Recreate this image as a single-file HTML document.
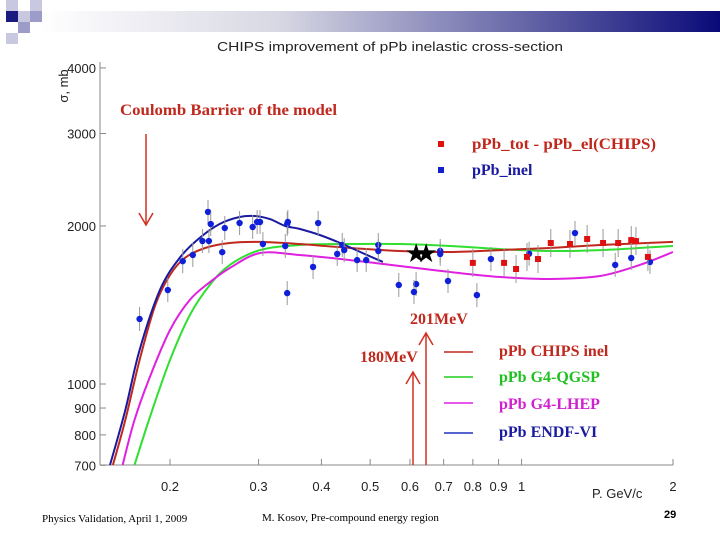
<!DOCTYPE html>
<html><head><meta charset="utf-8"><style>
html,body{margin:0;padding:0;background:#fff;width:720px;height:540px;overflow:hidden}
svg{display:block}
.ax{font-family:"Liberation Sans",sans-serif;font-size:13px;fill:#222}
.sr{font-family:"Liberation Serif",serif;font-weight:bold;font-size:16px}
</style></head><body>
<svg id="c" width="720" height="540" xmlns="http://www.w3.org/2000/svg">
<defs><linearGradient id="hg" x1="0" x2="1"><stop offset="0" stop-color="#fff"/><stop offset="0.35" stop-color="#d8d8e4"/><stop offset="1" stop-color="#0a0a78"/></linearGradient></defs>
<rect x="40" y="11" width="680" height="21" fill="url(#hg)"/>
<g>
<rect x="6" y="0" width="12" height="11" fill="#c8c8e0"/><rect x="30" y="0" width="12" height="11" fill="#c8c8e0"/>
<rect x="6" y="11" width="12" height="11" fill="#1a1a80"/><rect x="18" y="11" width="12" height="11" fill="#c8c8e0"/><rect x="30" y="11" width="12" height="11" fill="#9c9cc8"/>
<rect x="18" y="22" width="12" height="11" fill="#9c9cc8"/><rect x="6" y="33" width="12" height="11" fill="#c8c8e0"/>
</g>
<text x="217" y="51" class="ax" font-size="15" textLength="346" lengthAdjust="spacingAndGlyphs">CHIPS improvement of pPb inelastic cross-section</text>
<text class="ax" transform="translate(68,86) rotate(-90)" text-anchor="middle">σ, mb</text>
<text class="ax" x="592" y="498">P. GeV/c</text>
<g id="axes"></g><g id="curves"></g><g id="pts"></g>
<text class="sr" x="120" y="115" fill="#c0281e" textLength="217" lengthAdjust="spacingAndGlyphs">Coulomb Barrier of the model</text>
<g stroke="#d03020" stroke-width="1.5" fill="none"><line x1="146" y1="134" x2="146" y2="225"/><polyline points="139,213 146,225 153,213"/></g>
<rect x="438" y="141" width="6" height="6" fill="#e01010"/>
<text class="sr" x="472" y="149" fill="#c0281e" textLength="184" lengthAdjust="spacingAndGlyphs">pPb_tot - pPb_el(CHIPS)</text>
<rect x="438" y="167" width="6" height="6" fill="#1020d0"/>
<text class="sr" x="472" y="175" fill="#1a1aa0">pPb_inel</text>
<text class="sr" x="410" y="324" fill="#c0281e">201MeV</text>
<text class="sr" x="360" y="362" fill="#c0281e">180MeV</text>
<g stroke="#d03020" stroke-width="1.5" fill="none">
<line x1="413" y1="372" x2="413" y2="465"/><polyline points="406,384 413,372 420,384"/>
<line x1="426" y1="333" x2="426" y2="465"/><polyline points="419,345 426,333 433,345"/></g>
<g>
<line x1="444" y1="352" x2="473" y2="352" stroke="#c0281e" stroke-width="1.5"/><text class="sr" x="499" y="356" fill="#c0281e">pPb CHIPS inel</text>
<line x1="444" y1="377" x2="473" y2="377" stroke="#20d020" stroke-width="1.5"/><text class="sr" x="499" y="382" fill="#20c020">pPb G4-QGSP</text>
<line x1="444" y1="403" x2="473" y2="403" stroke="#e020e0" stroke-width="1.5"/><text class="sr" x="499" y="409" fill="#d020d0">pPb G4-LHEP</text>
<line x1="444" y1="433" x2="473" y2="433" stroke="#2030c0" stroke-width="1.5"/><text class="sr" x="499" y="437" fill="#1a1aa0">pPb ENDF-VI</text>
</g>
<text x="42" y="522" font-family="Liberation Serif,serif" font-size="11">Physics Validation, April 1, 2009</text>
<text x="262" y="521" font-family="Liberation Serif,serif" font-size="11">M. Kosov, Pre-compound energy region</text>
<text x="664" y="518" font-family="Liberation Sans,sans-serif" font-size="11" font-weight="bold">29</text>
</svg>
<script>
const xTicks=[0.2,0.3,0.4,0.5,0.6,0.7,0.8,0.9,1,2];
const xTickLabels=["0.2","0.3","0.4","0.5","0.6","0.7","0.8","0.9","1","2"];
const yTicks=[700,800,900,1000,2000,3000,4000];
const yTickLabels=["700","800","900","1000","2000","3000","4000"];
const blueE=[0.174,0.198,0.212,0.222,0.232,0.238,0.239,0.241,0.254,0.257,0.275,0.292,0.298,0.302,0.306,0.339,0.342,0.343,0.342,0.385,0.394,0.430,0.440,0.444,0.471,0.491,0.519,0.519,0.570,0.617,0.611,0.689,0.689,0.714,0.815,0.869,1.035,1.277,1.535,1.652,1.800];
const blueS=[1330,1510,1714,1761,1872,2127,1872,2017,1783,1982,2026,1991,2035,2035,1848,1832,2017,2035,1490,1671,2026,1769,1840,1799,1722,1722,1840,1792,1544,1550,1497,1792,1769,1571,1477,1730,1771,1939,1686,1738,1708];
const redE=[0.800,0.923,0.975,1.025,1.078,1.143,1.248,1.350,1.452,1.556,1.652,1.688,1.783];
const redS=[1701,1701,1656,1746,1730,1856,1848,1889,1856,1856,1880,1872,1746];
const starE=[0.617,0.646];
const starS=[1776,1776];
const curveE_red=[0.154,0.163,0.174,0.187,0.2,0.214,0.235,0.263,0.302,0.362,0.456,0.573,0.721,0.906,1.138,1.432,2.0];
const curveS_red=[701,854,1111,1414,1613,1738,1816,1856,1865,1848,1816,1792,1784,1799,1816,1840,1865];
const curveE_green=[0.170,0.183,0.2,0.219,0.240,0.263,0.302,0.362,0.456,0.573,0.721,0.906,1.138,1.432,2.0];
const curveS_green=[701,873,1111,1353,1544,1686,1799,1840,1848,1848,1832,1807,1792,1799,1832];
const curveE_mag=[0.161,0.170,0.183,0.2,0.219,0.240,0.263,0.302,0.362,0.456,0.573,0.721,0.906,1.138,1.432,1.718,2.0];
const curveS_mag=[701,854,1040,1267,1446,1563,1663,1776,1761,1722,1678,1634,1599,1585,1606,1686,1784];
const curveE_blue=[0.152,0.163,0.174,0.191,0.209,0.229,0.251,0.275,0.295,0.316,0.339,0.362,0.397,0.436,0.478,0.530];
const curveS_blue=[701,892,1161,1510,1738,1897,2017,2080,2089,2061,2000,1974,1922,1856,1784,1708];
const X=e=>170+503*Math.log10(e/0.2);
const Y=s=>384-525*Math.log10(s/1000);
const NS="http://www.w3.org/2000/svg";
function mk(p,t,a){const e=document.createElementNS(NS,t);for(const k in a)e.setAttribute(k,a[k]);p.appendChild(e);return e;}
const ax=document.getElementById('axes');
let l=mk(ax,'line',{x1:100,y1:62,x2:100,y2:465,stroke:'#888'});


l=mk(ax,'line',{x1:100,y1:465,x2:673,y2:465,stroke:'#888'});


xTicks.forEach((v,i)=>{const x=X(v);
 const t=mk(ax,'line',{x1:x,y1:465,x2:x,y2:459,stroke:'#888'});
 
 
 const tx=mk(ax,'text',{x:x,y:491,'text-anchor':'middle',class:'ax'});tx.textContent=xTickLabels[i];
 
 });
yTicks.forEach((v,i)=>{const y=Y(v);
 const t=mk(ax,'line',{x1:100,y1:y,x2:106,y2:y,stroke:'#888'});
 
 
 const tx=mk(ax,'text',{x:96,y:y+5,'text-anchor':'end',class:'ax'});tx.textContent=yTickLabels[i];
 
 });
const cv=document.getElementById('curves');
function curve(E,S,col,name){
 const P=E.map((e,i)=>[X(e),Y(S[i])]);
 let d='M'+P[0][0].toFixed(1)+','+P[0][1].toFixed(1);
 for(let i=0;i<P.length-1;i++){
  const p0=P[Math.max(0,i-1)],p1=P[i],p2=P[i+1],p3=P[Math.min(P.length-1,i+2)];
  const c1=[p1[0]+(p2[0]-p0[0])/6,p1[1]+(p2[1]-p0[1])/6];
  const c2=[p2[0]-(p3[0]-p1[0])/6,p2[1]-(p3[1]-p1[1])/6];
  d+='C'+c1.map(v=>v.toFixed(1)).join(',')+' '+c2.map(v=>v.toFixed(1)).join(',')+' '+p2[0].toFixed(1)+','+p2[1].toFixed(1);
 }
 const p=mk(cv,'path',{d:d,fill:'none',stroke:col,'stroke-width':2,'stroke-linejoin':'round'});
 
 }
curve(curveE_green,curveS_green,'#30e030','curve-g4-qgsp');
curve(curveE_mag,curveS_mag,'#e020e0','curve-g4-lhep');
curve(curveE_red,curveS_red,'#c0281e','curve-chips-inel');
curve(curveE_blue,curveS_blue,'#1a1aa0','curve-endf-vi');
const pg=document.getElementById('pts');
blueE.forEach((e,i)=>{const x=X(e),y=Y(blueS[i]);
 const b=mk(pg,'line',{x1:x,y1:y-12,x2:x,y2:y+12,stroke:'#999'});
 
 
 const c=mk(pg,'circle',{cx:x,cy:y,r:3.2,fill:'#1020d8'});
 
 });
redE.forEach((e,i)=>{const x=X(e),y=Y(redS[i]);
 const b=mk(pg,'line',{x1:x,y1:y-14,x2:x,y2:y+14,stroke:'#999'});
 
 
 const r=mk(pg,'rect',{x:x-3,y:y-3,width:6,height:6,fill:'#e01010'});
 
 });
starE.forEach((e,i)=>{const x=X(e),y=Y(starS[i]);
 const s=mk(pg,'text',{x:x,y:y+9,'text-anchor':'middle','font-size':26,fill:'#000','font-family':'DejaVu Sans,sans-serif'});s.textContent='★';
 
 });
</script>
</body></html>
